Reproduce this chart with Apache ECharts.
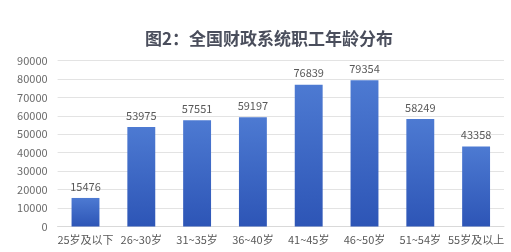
<!DOCTYPE html>
<html><head><meta charset="utf-8">
<script src="https://cdn.jsdelivr.net/npm/echarts@6/dist/echarts.min.js"></script>
<style>html,body{margin:0;padding:0;background:#fff}#c{width:511px;height:252px}</style>
</head><body><div id="c"></div>
<script>
const categories = ['25岁及以下','26~30岁','31~35岁','36~40岁','41~45岁','46~50岁','51~54岁','55岁及以上'];
const values = [15476, 53975, 57551, 59197, 76839, 79354, 58249, 43358];
const titleText = '图2：全国财政系统职工年龄分布';
const chart = echarts.init(document.getElementById('c'));
chart.setOption({
  animation: false,
  backgroundColor: '#ffffff',
  title: {
    text: titleText, left: 140, top: 25,
    textStyle: { fontFamily: 'Noto Sans CJK SC', fontSize: 17, fontWeight: 'bold', color: '#4a4e5c' }
  },
  grid: { left: 57.6, right: 7, top: 60.5, bottom: 25.5 },
  xAxis: {
    type: 'category', data: categories,
    axisLine: { lineStyle: { color: '#d9d9d9' } },
    axisTick: { show: false },
    axisLabel: { color: '#595959', fontSize: 11, fontFamily: 'Noto Sans CJK SC', margin: 8, interval: 0 }
  },
  yAxis: {
    type: 'value', min: 0, max: 90000, interval: 10000,
    axisLine: { show: false }, axisTick: { show: false },
    splitLine: { lineStyle: { color: '#e3e3e3' } },
    axisLabel: { color: '#6b6b6b', fontSize: 11, fontFamily: 'Noto Sans CJK SC', margin: 10, formatter: v => String(v) }
  },
  series: [{
    type: 'bar', data: values, barWidth: '50%',
    itemStyle: {
      color: new echarts.graphic.LinearGradient(0, 0, 0, 1, [
        { offset: 0, color: '#4d7ad2' }, { offset: 1, color: '#2d55b6' }
      ])
    },
    label: { show: true, position: 'top', distance: 6, color: '#595959', fontSize: 11, fontFamily: 'Noto Sans CJK SC' }
  }]
});
</script></body></html>
